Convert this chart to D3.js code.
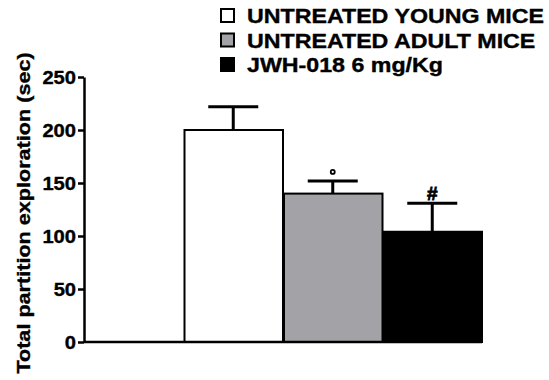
<!DOCTYPE html>
<html>
<head>
<meta charset="utf-8">
<script src="https://cdn.jsdelivr.net/npm/d3@7"></script>
<style>
  body { margin: 0; background: #fff; }
  text { font-family: "Liberation Sans", Arial, sans-serif; font-weight: bold; fill: #000; stroke: #000; stroke-width: 0.35px; }
</style>
</head>
<body>
<svg id="chart"></svg>
<script>

// data
var groups = ["", "UNTREATED YOUNG MICE", "UNTREATED ADULT MICE", "JWH-018 6 mg/Kg"]
var means = [null, 200, 140, 104]
var errors = [null, 22, 12, 27]
var marks = [null, "", "°", "#"]
var colors = ["#fff", "#ffffff", "#a3a2a7", "#000000"]
var yTicks = [0, 50, 100, 150, 200, 250]

var dimensions = {
    width: 549,
    height: 380,
    margin: {
        top: 77,
        bottom: 38,
        right: 67,
        left: 84
    }
}
dimensions.boundedWidth = dimensions.width - dimensions.margin.left - dimensions.margin.right
dimensions.boundedHeight = dimensions.height - dimensions.margin.top - dimensions.margin.bottom

// the original lettering is a wide heavy sans, stretch it a bit
var stretch = function (sel, k) {
    sel.each(function () {
        var len = this.getComputedTextLength()
        d3.select(this).attr("textLength", len * k).attr("lengthAdjust", "spacingAndGlyphs")
    })
}

var svg = d3.select("#chart")
    .attr("width", dimensions.width)
    .attr("height", dimensions.height)

var g = svg.append("g")
    .attr("transform", "translate(" + dimensions.margin.left + "," + dimensions.margin.top + ")")

var xScale = d3.scaleBand()
    .domain(d3.range(groups.length))
    .range([0, dimensions.boundedWidth])
    .paddingInner(0)
    .paddingOuter(0)

var yScale = d3.scaleLinear()
    .domain([0, 250])
    .range([dimensions.boundedHeight, 0])

var data = d3.range(groups.length)
    .filter(function (i) { return means[i] != null })
    .map(function (i) { return { i: i, mean: means[i], err: errors[i], mark: marks[i], color: colors[i] } })

var cx = d => xScale(d.i) + xScale.bandwidth() / 2

// error bars (drawn first so the bar outline covers the stem base)
var capHalf = 25
g.selectAll(".stem")
    .data(data)
    .enter()
    .append("line")
    .attr("x1", cx)
    .attr("x2", cx)
    .attr("y1", d => yScale(d.mean))
    .attr("y2", d => yScale(d.mean + d.err))
    .attr("stroke", "#000")
    .attr("stroke-width", 3)

g.selectAll(".cap")
    .data(data)
    .enter()
    .append("line")
    .attr("x1", d => cx(d) - capHalf)
    .attr("x2", d => cx(d) + capHalf)
    .attr("y1", d => yScale(d.mean + d.err))
    .attr("y2", d => yScale(d.mean + d.err))
    .attr("stroke", "#000")
    .attr("stroke-width", 3)

g.selectAll(".bar")
    .data(data)
    .enter()
    .append("rect")
    .attr("x", d => xScale(d.i) + 1)
    .attr("width", xScale.bandwidth() - 1)
    .attr("y", d => yScale(d.mean))
    .attr("height", d => yScale(0) - yScale(d.mean))
    .attr("fill", d => d.color)
    .attr("stroke", "#000")
    .attr("stroke-width", 2)

// significance marks
g.selectAll(".mark")
    .data(data.filter(d => d.mark == "#"))
    .enter()
    .append("text")
    .attr("x", cx)
    .attr("y", d => yScale(d.mean + d.err) - 3)
    .attr("text-anchor", "middle")
    .style("font-size", "19px")
    .style("stroke-width", "0.8px")
    .text(d => d.mark)

g.selectAll(".deg")
    .data(data.filter(d => d.mark == "°"))
    .enter()
    .append("circle")
    .attr("cx", cx)
    .attr("cy", d => yScale(d.mean + d.err) - 9)
    .attr("r", 2)
    .attr("fill", "none")
    .attr("stroke", "#000")
    .attr("stroke-width", 1.8)

// axes
var yAxis = g.append("g")
    .call(d3.axisLeft(yScale).tickValues(yTicks).tickSize(6).tickSizeOuter(0).tickPadding(2))
yAxis.select(".domain").attr("stroke-width", 2.5)
yAxis.selectAll(".tick line").attr("stroke-width", 2.5)
yAxis.selectAll("text")
    .attr("dy", "0.36em")
    .style("font-size", "17.5px")
    .call(stretch, 1.15)

g.append("line")
    .attr("x1", 0)
    .attr("x2", dimensions.boundedWidth)
    .attr("y1", yScale(0))
    .attr("y2", yScale(0))
    .attr("stroke", "#000")
    .attr("stroke-width", 2.5)

// y label
svg.append("text")
    .attr("transform", "rotate(-90)")
    .attr("x", -213)
    .attr("y", 30)
    .style("text-anchor", "middle")
    .style("font-size", "18px")
    .text("Total partition exploration (sec)")
    .call(stretch, 1.2)

// legend
var legend = svg.append("g")
    .attr("transform", "translate(220,8)")

var legendRows = legend.selectAll(".row")
    .data(data)
    .enter()
    .append("g")
    .attr("transform", (d, k) => "translate(0," + (k * 24.5) + ")")

legendRows.append("rect")
    .attr("x", 1)
    .attr("y", 1)
    .attr("width", 13)
    .attr("height", 13)
    .attr("fill", d => d.color)
    .attr("stroke", "#000")
    .attr("stroke-width", 2)

legendRows.append("text")
    .attr("x", 27)
    .attr("y", 15)
    .style("font-size", "19.5px")
    .text(d => groups[d.i])
    .call(stretch, 1.19)

</script>
</body>
</html>
